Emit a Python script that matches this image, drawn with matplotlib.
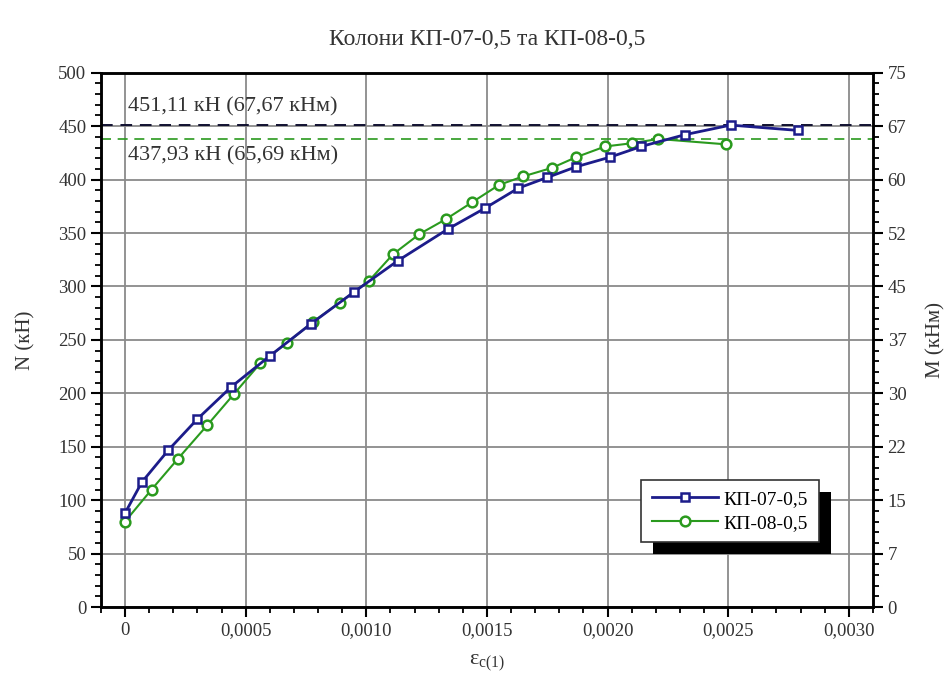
import numpy as np
import matplotlib
matplotlib.use('Agg')
from matplotlib import pyplot as plt
from matplotlib.patches import Rectangle
from matplotlib.ticker import MultipleLocator, FixedLocator, FixedFormatter

plt.rcParams['font.family'] = ['Liberation Serif', 'DejaVu Serif']
plt.rcParams['mathtext.fontset'] = 'stix'

# КП-07-0,5 (blue squares)
eps_07 = [0.0, 0.00007, 0.00018, 0.00030, 0.00044, 0.00060, 0.00077, 0.00095,
          0.00113, 0.00134, 0.00149, 0.00163, 0.00175, 0.00187, 0.00201,
          0.00214, 0.00232, 0.00251, 0.00279]
n_07 = [88, 117, 147, 176, 206, 235, 265, 295, 324, 354, 373, 392, 402, 412,
        421, 431, 442, 451, 446]

# КП-08-0,5 (green circles)
eps_08 = [0.0, 0.00011, 0.00022, 0.00034, 0.00045, 0.00056, 0.00067, 0.00078,
          0.00089, 0.00101, 0.00111, 0.00122, 0.00133, 0.00144, 0.00155,
          0.00165, 0.00177, 0.00187, 0.00199, 0.00210, 0.00221, 0.00249]
n_08 = [80, 110, 139, 170, 199, 228, 247, 267, 285, 305, 330, 349, 363, 379,
        395, 403, 411, 421, 431, 434, 438, 433]

n_max_07 = 451.11
n_max_08 = 437.93
label_07 = '451,11 кН (67,67 кНм)'
label_08 = '437,93 кН (65,69 кНм)'

x_ticks = [0, 0.0005, 0.0010, 0.0015, 0.0020, 0.0025, 0.0030]
x_labels = ['0', '0,0005', '0,0010', '0,0015', '0,0020', '0,0025', '0,0030']
m_ticks = [0, 7.5, 15, 22.5, 30, 37.5, 45, 52.5, 60, 67.5, 75]
m_labels = ['0', '7', '15', '22', '30', '37', '45', '52', '60', '67', '75']

blue = '#1c1c8a'
green = '#2a9a1e'
txt = '#333333'

fig = plt.figure(figsize=(9.52, 6.86), dpi=100)
ax = fig.add_axes([0.106, 0.115, 0.811, 0.779])

ax.axhline(n_max_07, color='#101030', linestyle=(0, (6, 4)), linewidth=1.4, zorder=2)
ax.axhline(n_max_08, color=green, linestyle=(0, (6, 4)), linewidth=1.2, zorder=2)

ax.plot(eps_07, n_07, color=blue, linewidth=2, marker='s', markersize=6,
        markerfacecolor='white', markeredgecolor=blue, markeredgewidth=1.8,
        label='КП-07-0,5', zorder=4)
ax.plot(eps_08, n_08, color=green, linewidth=1.5, marker='o', markersize=7,
        markerfacecolor='white', markeredgecolor=green, markeredgewidth=1.8,
        label='КП-08-0,5', zorder=3)

ax.text(0.000012, n_max_07 + 8, label_07, fontsize=16, color=txt, va='bottom')
ax.text(0.000012, n_max_08 - 7, label_08, fontsize=16, color=txt, va='top')

ax.set_xlim(-0.0001, 0.0031)
ax.set_ylim(0, 500)
ax.xaxis.set_major_locator(FixedLocator(x_ticks))
ax.xaxis.set_major_formatter(FixedFormatter(x_labels))
ax.xaxis.set_minor_locator(MultipleLocator(0.0001))
ax.yaxis.set_major_locator(MultipleLocator(50))
ax.yaxis.set_minor_locator(MultipleLocator(10))
ax.grid(True, which='major', color='#8a8a8a', linewidth=1.3)
ax.set_axisbelow(True)

for s in ax.spines.values():
    s.set_linewidth(1.8)
ax.tick_params(which='major', direction='out', length=7, width=1.5,
               labelsize=13.5, labelcolor=txt)
ax.tick_params(which='minor', direction='out', length=4, width=1.3)

ax2 = ax.twinx()
ax2.set_ylim(0, 75)
ax2.yaxis.set_major_locator(FixedLocator(m_ticks))
ax2.yaxis.set_major_formatter(FixedFormatter(m_labels))
ax2.yaxis.set_minor_locator(MultipleLocator(1.5))
ax2.tick_params(which='major', direction='out', length=7, width=1.5,
                labelsize=13.5, labelcolor=txt)
ax2.tick_params(which='minor', direction='out', length=4, width=1.3)
for s in ax2.spines.values():
    s.set_linewidth(1.8)

ax.set_title('Колони КП-07-0,5 та КП-08-0,5', fontsize=17, color=txt, pad=20)
ax.set_ylabel('N (кН)', fontsize=15, color=txt, labelpad=16)
ax2.set_ylabel('М (кНм)', fontsize=15, color=txt, rotation=90, labelpad=14)
ax.set_xlabel(r'$\mathregular{\varepsilon_{c(1)}}$', fontsize=16, color=txt, labelpad=10)

leg = ax2.legend(*ax.get_legend_handles_labels(), loc='upper left',
                 bbox_to_anchor=(0.6995, 0.238), fontsize=14, frameon=True,
                 fancybox=False, framealpha=1, edgecolor=txt,
                 borderpad=0.55, handlelength=3.4, handletextpad=0.3,
                 labelspacing=0.3, borderaxespad=0)
leg.get_frame().set_linewidth(1.2)
leg.set_zorder(10)

fig.canvas.draw()
bb = leg.get_window_extent()
shadow = Rectangle((bb.x0 + 12, bb.y0 - 12), bb.width, bb.height, transform=None,
                   facecolor='black', edgecolor='none', zorder=9)
ax2.add_artist(shadow)

fig.savefig('out.png', dpi=100)
